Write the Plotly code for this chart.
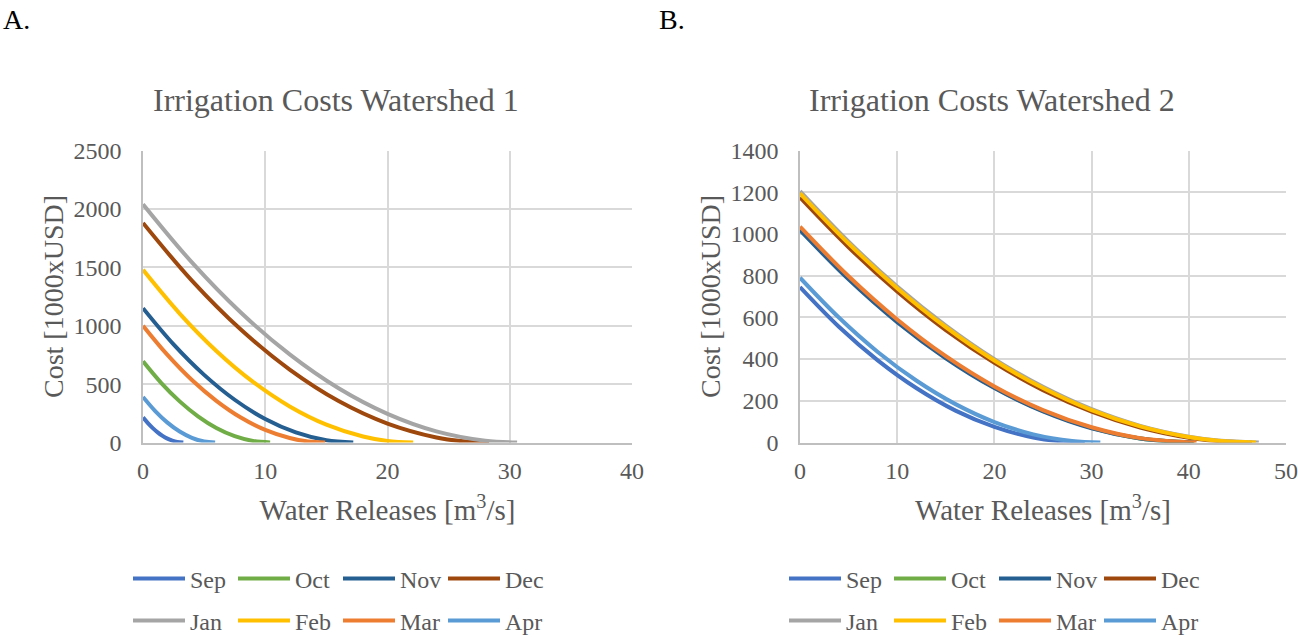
import plotly.graph_objects as go

months = ["Sep", "Oct", "Nov", "Dec", "Jan", "Feb", "Mar", "Apr"]
colors = ["#4472C4", "#70AD47", "#255E91", "#9E480E", "#A5A5A5", "#FFC000", "#ED7D31", "#5B9BD5"]

# Watershed 1 (water release m3/s, cost 1000 USD)
w1_sep_x = [0, 0.4, 0.8, 1.2, 1.6, 2.0, 2.4, 2.8, 3.3]
w1_sep_y = [215, 166, 123, 87, 57, 33, 16, 5, 0]
w1_oct_x = [0, 1.5, 3, 4.5, 6, 7.5, 9, 10.4]
w1_oct_y = [695, 509, 352, 224, 124, 54, 13, 0]
w1_nov_x = [0, 2.5, 5, 7.5, 10, 12.5, 15, 17.2]
w1_nov_y = [1150, 840, 579, 366, 201, 86, 19, 0]
w1_dec_x = [0, 4, 8, 12, 16, 20, 24, 26, 28.3]
w1_dec_y = [1880, 1386, 967, 624, 355, 162, 43, 12, 0]
w1_jan_x = [0, 4, 8, 12, 16, 20, 24, 28, 30.6]
w1_jan_y = [2040, 1542, 1113, 754, 464, 245, 95, 15, 0]
w1_feb_x = [0, 3, 6, 9, 12, 15, 18, 20, 22.1]
w1_feb_y = [1478, 1104, 784, 519, 309, 153, 51, 13, 0]
w1_mar_x = [0, 2, 4, 6, 8, 10, 12, 13.5, 14.9]
w1_mar_y = [1000, 750, 535, 357, 214, 108, 38, 9, 0]
w1_apr_x = [0, 1, 2, 3, 4, 5, 5.9]
w1_apr_y = [390, 269, 170, 94, 40, 9, 0]

# Watershed 2
w2_sep_x = [0, 4, 8, 12, 16, 20, 24, 27, 29.3]
w2_sep_y = [745, 555, 394, 260, 153, 75, 24, 5, 0]
w2_oct_x = [0, 5, 10, 15, 20, 25, 30, 35, 40.6]
w2_oct_y = [1025, 788, 582, 408, 264, 151, 70, 19, 0]
w2_nov_x = [0, 5, 10, 15, 20, 25, 30, 35, 40.5]
w2_nov_y = [1018, 782, 577, 404, 261, 149, 68, 19, 0]
w2_dec_x = [0, 5, 10, 15, 20, 25, 30, 35, 40, 43, 46.5]
w2_dec_y = [1175, 936, 724, 539, 382, 251, 148, 72, 23, 7, 0]
w2_jan_x = [0, 5, 10, 15, 20, 25, 30, 35, 40, 43, 47.2]
w2_jan_y = [1205, 963, 748, 561, 400, 267, 160, 80, 28, 10, 0]
w2_feb_x = [0, 5, 10, 15, 20, 25, 30, 35, 40, 43, 46.9]
w2_feb_y = [1195, 954, 740, 553, 393, 261, 155, 77, 26, 8, 0]
w2_mar_x = [0, 5, 10, 15, 20, 25, 30, 35, 40.8]
w2_mar_y = [1035, 797, 590, 414, 269, 155, 73, 21, 0]
w2_apr_x = [0, 4, 8, 12, 16, 20, 24, 28, 30.9]
w2_apr_y = [790, 599, 434, 296, 184, 98, 39, 7, 0]

w1 = [(w1_sep_x, w1_sep_y), (w1_oct_x, w1_oct_y), (w1_nov_x, w1_nov_y), (w1_dec_x, w1_dec_y),
      (w1_jan_x, w1_jan_y), (w1_feb_x, w1_feb_y), (w1_mar_x, w1_mar_y), (w1_apr_x, w1_apr_y)]
w2 = [(w2_sep_x, w2_sep_y), (w2_oct_x, w2_oct_y), (w2_nov_x, w2_nov_y), (w2_dec_x, w2_dec_y),
      (w2_jan_x, w2_jan_y), (w2_feb_x, w2_feb_y), (w2_mar_x, w2_mar_y), (w2_apr_x, w2_apr_y)]

FONT = "Liberation Serif"
TXT = "#595959"
W, H = 1298, 637

fig = go.Figure()
for i, (m, c) in enumerate(zip(months, colors)):
    leg = "legend" if i < 4 else "legend2"
    fig.add_trace(go.Scatter(x=w1[i][0], y=w1[i][1], mode="lines", name=m,
                             line=dict(color=c, width=4, shape="spline", smoothing=1.0),
                             xaxis="x", yaxis="y", legend=leg))
for i, (m, c) in enumerate(zip(months, colors)):
    leg = "legend3" if i < 4 else "legend4"
    fig.add_trace(go.Scatter(x=w2[i][0], y=w2[i][1], mode="lines", name=m,
                             line=dict(color=c, width=4, shape="spline", smoothing=1.0),
                             xaxis="x2", yaxis="y2", legend=leg))

ydom = [1 - 442.5 / H, 1 - 150.5 / H]
axis_common = dict(showgrid=True, gridcolor="#D9D9D9", gridwidth=1.5, zeroline=False,
                   showline=True, linecolor="#BFBFBF", linewidth=1.5, ticks="", automargin=False,
                   tickfont=dict(family=FONT, size=24, color=TXT))
xtitle_font = dict(family=FONT, size=29, color=TXT)
ytitle_font = dict(family=FONT, size=28, color=TXT)
xt = "Water Releases [m<sup>3</sup>/s]"
yt = "Cost [1000xUSD]"

fig.update_layout(
    width=W, height=H, margin=dict(l=0, r=0, t=0, b=0, autoexpand=False),
    paper_bgcolor="white", plot_bgcolor="white",
    xaxis=dict(domain=[143 / W, 632 / W], range=[0, 40], dtick=10, anchor="y", ticklabelstandoff=6,
               title=dict(text=xt, font=xtitle_font, standoff=17), **axis_common),
    yaxis=dict(domain=ydom, range=[0, 2500], dtick=500, anchor="x", ticklabelstandoff=15,
               title=dict(text=yt, font=ytitle_font, standoff=2), **axis_common),
    xaxis2=dict(domain=[800 / W, 1286 / W], range=[0, 50], dtick=10, anchor="y2", ticklabelstandoff=6,
                title=dict(text=xt, font=xtitle_font, standoff=17), **axis_common),
    yaxis2=dict(domain=ydom, range=[0, 1400], dtick=200, anchor="x2", ticklabelstandoff=15,
                title=dict(text=yt, font=ytitle_font, standoff=2), **axis_common),
    showlegend=True,
)

leg_common = dict(orientation="h", xanchor="left", yanchor="middle", bgcolor="rgba(0,0,0,0)",
                  font=dict(family=FONT, size=24, color=TXT), itemwidth=52, entrywidth=38,
                  entrywidthmode="pixels", traceorder="normal", tracegroupgap=0,
                  xref="container", yref="container")
fig.update_layout(
    legend=dict(x=128 / W, y=1 - 579 / H, **leg_common),
    legend2=dict(x=128 / W, y=1 - 621 / H, **leg_common),
    legend3=dict(x=784 / W, y=1 - 579 / H, **leg_common),
    legend4=dict(x=784 / W, y=1 - 621 / H, **leg_common),
)

fig.add_annotation(text="Irrigation Costs Watershed 1", x=336 / W, y=1 - 100 / H, xref="paper", yref="paper",
                   showarrow=False, xanchor="center", yanchor="middle",
                   font=dict(family=FONT, size=32, color=TXT))
fig.add_annotation(text="Irrigation Costs Watershed 2", x=992 / W, y=1 - 100 / H, xref="paper", yref="paper",
                   showarrow=False, xanchor="center", yanchor="middle",
                   font=dict(family=FONT, size=32, color=TXT))
fig.add_annotation(text="A.", x=1 / W, y=1 - 20 / H, xref="paper", yref="paper", showarrow=False,
                   xanchor="left", yanchor="middle", font=dict(family=FONT, size=28, color="black"))
fig.add_annotation(text="B.", x=657 / W, y=1 - 20 / H, xref="paper", yref="paper", showarrow=False,
                   xanchor="left", yanchor="middle", font=dict(family=FONT, size=28, color="black"))

fig.write_html("out.html")
